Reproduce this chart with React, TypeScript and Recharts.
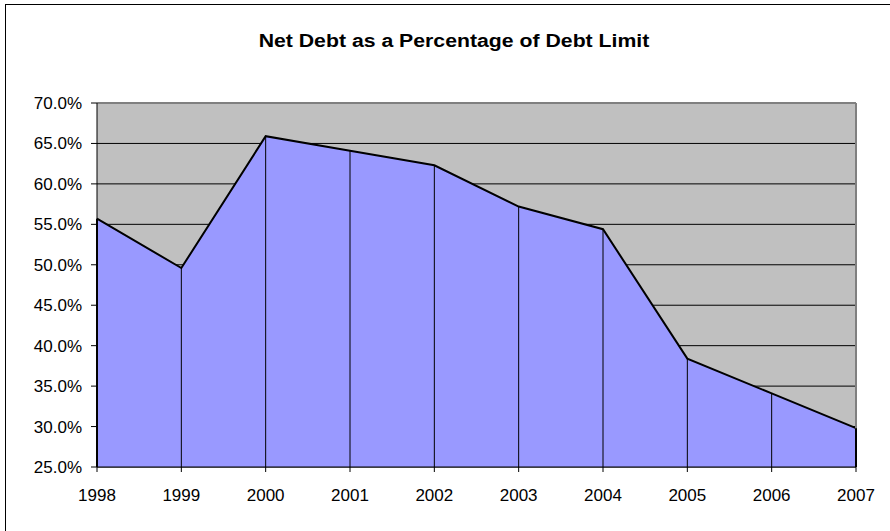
import React from 'react';
import { AreaChart, Area, XAxis, YAxis, CartesianGrid, ReferenceLine } from 'recharts';

const years = ['1998', '1999', '2000', '2001', '2002', '2003', '2004', '2005', '2006', '2007'];
const netDebtPct = [55.7, 49.6, 65.9, 64.1, 62.3, 57.2, 54.4, 38.4, 34.1, 29.8];
const yTicks = [25, 30, 35, 40, 45, 50, 55, 60, 65, 70];
const chartTitle = 'Net Debt as a Percentage of Debt Limit';

const data = years.map((year, i) => ({ year, value: netDebtPct[i] }));

const FONT = '"Liberation Sans", Arial, sans-serif';

export default function App() {
  const last = years.length - 1;
  return (
    <div
      style={{
        position: 'absolute',
        left: 0,
        top: 0,
        width: 890,
        height: 531,
        overflow: 'hidden',
        background: '#fff',
        fontFamily: FONT,
      }}
    >
      <div
        style={{
          position: 'absolute',
          left: 5,
          top: 4,
          width: 1000,
          height: 1000,
          borderLeft: '1px solid #000',
          borderTop: '1px solid #000',
        }}
      />
      <div
        style={{
          position: 'absolute',
          left: 204,
          top: 32,
          width: 500,
          textAlign: 'center',
          fontSize: 18,
          lineHeight: '18px',
          fontWeight: 'bold',
          color: '#000',
          transform: 'scaleX(1.18)',
          transformOrigin: '50% 50%',
          whiteSpace: 'nowrap',
        }}
      >
        {chartTitle}
      </div>
      <AreaChart
        width={890}
        height={531}
        data={data}
        margin={{ top: 103, right: 34, bottom: 24, left: 5 }}
        style={{ position: 'absolute', left: 0, top: 0, fontFamily: FONT }}
      >
        <CartesianGrid vertical={false} stroke="#000" fill="#C0C0C0" fillOpacity={1} />
        <XAxis
          dataKey="year"
          stroke="#000"
          tickSize={5}
          tickMargin={17}
          height={40}
          interval={0}
          tick={{ fill: '#000', fontSize: 17, fontFamily: FONT }}
        />
        <YAxis
          type="number"
          domain={[25, 70]}
          ticks={yTicks}
          allowDataOverflow
          stroke="#000"
          width={92}
          tickSize={6}
          tickMargin={9}
          interval={0}
          tickFormatter={(v: number) => v.toFixed(1) + '%'}
          tick={{ fill: '#000', fontSize: 17, fontFamily: FONT }}
        />
        <Area
          type="linear"
          dataKey="value"
          stroke="#000"
          strokeWidth={2}
          fill="#9999FF"
          fillOpacity={1}
          dot={false}
          activeDot={false}
          isAnimationActive={false}
        />
        <ReferenceLine y={70} stroke="#808080" strokeWidth={2} />
        <ReferenceLine x={years[last]} stroke="#808080" strokeWidth={2} />
        {years.map((y, i) => (
          <ReferenceLine
            key={y}
            segment={[
              { x: y, y: 25 },
              { x: y, y: netDebtPct[i] },
            ]}
            stroke="#000"
            strokeWidth={i === 0 || i === last ? 2 : 1}
          />
        ))}
      </AreaChart>
    </div>
  );
}
